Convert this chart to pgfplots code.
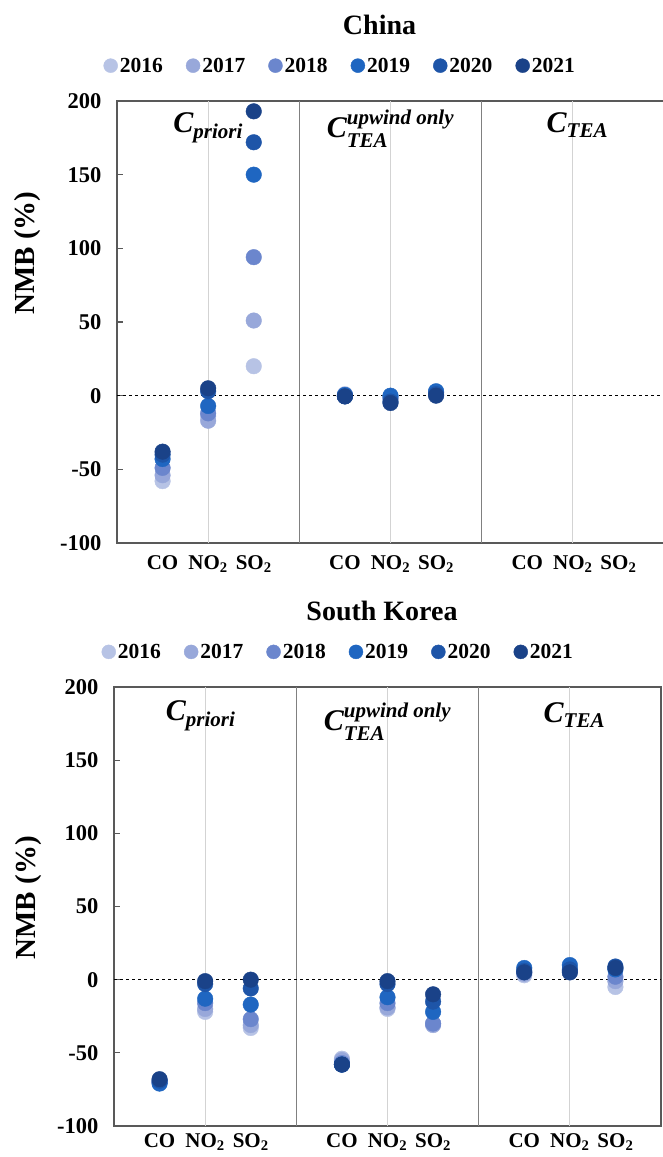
\documentclass[border=0pt]{standalone}
\usepackage{fontspec}
\setmainfont{Liberation Serif}
\usepackage{amsmath}
\usepackage{pgfplots}
\usepackage{pgfplotstable}
\pgfplotsset{compat=1.18}

\definecolor{c2016}{HTML}{B7C3E5}
\definecolor{c2017}{HTML}{98A8DA}
\definecolor{c2018}{HTML}{6B86CD}
\definecolor{c2019}{HTML}{1F66C1}
\definecolor{c2020}{HTML}{1E55A8}
\definecolor{c2021}{HTML}{1A4288}
\definecolor{axisgray}{HTML}{595959}
\definecolor{divgray}{HTML}{808080}
\definecolor{gridgray}{HTML}{D3D3D3}

% NMB (%) per pollutant; x: 1-3 a priori, 5-7 upwind only, 9-11 TEA
\pgfplotstableread{
x y2016 y2017 y2018 y2019 y2020 y2021
1 -58 -54 -49 -43 -40 -38
2 -14 -17 -12 -7 3 5
3 20 51 94 150 172 193
5 1 0.5 0 0.5 -0.5 -0.5
6 -1 -1 -2 0 -4 -5
7 2 2 2 3 1 0
}\chinatab

\pgfplotstableread{
x y2016 y2017 y2018 y2019 y2020 y2021
1 -70 -70 -70 -71 -69 -68
2 -22 -20 -16 -13 -3 -1
3 -33 -31 -27 -17 -6 0
5 -54 -55 -57 -58 -58 -58
6 -20 -19 -16 -12 -3 -1
7 -30 -31 -30 -22 -15 -10
9 3 4 5 8 6 5
10 5 6 6 10 7 5
11 -5 -1 2 7 9 8
}\koreatab

\newcommand{\bigfont}[1]{\fontsize{#1}{#1}\selectfont\bfseries}

\pgfplotsset{
  nmb/.style={
    scale only axis,
    width=547pt,
    xmin=0, xmax=12, ymin=-100, ymax=200,
    ytick={-100,-50,...,200},
    ytick pos=left,
    xtick={1,2,3,5,6,7,9,10,11},
    xticklabels={CO,NO\textsubscript{2},SO\textsubscript{2},CO,NO\textsubscript{2},SO\textsubscript{2},CO,NO\textsubscript{2},SO\textsubscript{2}},
    major x tick style={draw=none},
    tick align=inside,
    major tick length=6pt,
    major y tick style={axisgray, line width=1.2pt},
    axis line style={axisgray, line width=1.2pt},
    /pgf/number format/assume math mode=true,
    yticklabel style={font=\bigfont{22.5}, xshift=-12pt},
    xticklabel style={font=\bigfont{21}, yshift=-9pt},
    ylabel={NMB (\%)},
    ylabel style={font=\bigfont{29}},
    title style={font=\bigfont{28}, anchor=center},
    legend columns=6,
    legend style={draw=none, fill=none, font=\bigfont{21.5}, anchor=center,
      inner sep=0pt,
      /tikz/every even column/.append style={column sep=21pt}},
    legend image code/.code={\fill[#1] (6pt,0pt) circle (7pt);},
    every axis plot/.append style={only marks, mark=*, mark size=7.8pt},
  }
}

\newcommand{\panellines}{
  \draw[gridgray, line width=1pt] (axis cs:2,-100) -- (axis cs:2,200);
  \draw[gridgray, line width=1pt] (axis cs:6,-100) -- (axis cs:6,200);
  \draw[gridgray, line width=1pt] (axis cs:10,-100) -- (axis cs:10,200);
  \draw[divgray, line width=1.1pt] (axis cs:4,-100) -- (axis cs:4,200);
  \draw[divgray, line width=1.1pt] (axis cs:8,-100) -- (axis cs:8,200);
  \draw[black, dashed, line width=0.6pt] (axis cs:0,0) -- (axis cs:12,0);
}

\begin{document}
\begin{tikzpicture}
\useasboundingbox (0pt,0pt) rectangle (662pt,-1157pt);

% China
\begin{axis}[nmb,
  at={(117pt,-543pt)}, anchor=south west, height=442pt,
  title={China}, title style={at={(axis description cs:0.48,1.158)}},
  ylabel style={at={(axis description cs:-0.163,0.656)}, anchor=center},
  legend style={at={(axis description cs:0.408,1.08)}},
]
\panellines
\addplot[color=c2016] table[x=x, y=y2016] {\chinatab};
\addplot[color=c2017] table[x=x, y=y2017] {\chinatab};
\addplot[color=c2018] table[x=x, y=y2018] {\chinatab};
\addplot[color=c2019] table[x=x, y=y2019] {\chinatab};
\addplot[color=c2020] table[x=x, y=y2020] {\chinatab};
\addplot[color=c2021] table[x=x, y=y2021] {\chinatab};
\legend{2016,2017,2018,2019,2020,2021}
\node[font=\bigfont{30}\itshape, anchor=base] at (axis cs:2,178.5) {$\text{C}_{\text{priori}}$};
\node[font=\bigfont{30}\itshape, anchor=base] at (axis cs:6,175) {$\text{C}^{\text{upwind only}}_{\text{TEA}}$};
\node[font=\bigfont{30}\itshape, anchor=base] at (axis cs:10.1,178.5) {$\text{C}_{\text{TEA}}$};
\end{axis}

% South Korea
\begin{axis}[nmb,
  at={(114pt,-1126pt)}, anchor=south west, height=439pt,
  xticklabel style={yshift=5pt},
  title={South Korea}, title style={at={(axis description cs:0.49,1.159)}},
  ylabel style={at={(axis description cs:-0.157,0.52)}, anchor=center},
  legend style={at={(axis description cs:0.41,1.08)}},
]
\panellines
\addplot[color=c2016] table[x=x, y=y2016] {\koreatab};
\addplot[color=c2017] table[x=x, y=y2017] {\koreatab};
\addplot[color=c2018] table[x=x, y=y2018] {\koreatab};
\addplot[color=c2019] table[x=x, y=y2019] {\koreatab};
\addplot[color=c2020] table[x=x, y=y2020] {\koreatab};
\addplot[color=c2021] table[x=x, y=y2021] {\koreatab};
\legend{2016,2017,2018,2019,2020,2021}
\node[font=\bigfont{30}\itshape, anchor=base] at (axis cs:1.9,177) {$\text{C}_{\text{priori}}$};
\node[font=\bigfont{30}\itshape, anchor=base] at (axis cs:6,170) {$\text{C}^{\text{upwind only}}_{\text{TEA}}$};
\node[font=\bigfont{30}\itshape, anchor=base] at (axis cs:10.1,176) {$\text{C}_{\text{TEA}}$};
\end{axis}
\end{tikzpicture}
\end{document}
